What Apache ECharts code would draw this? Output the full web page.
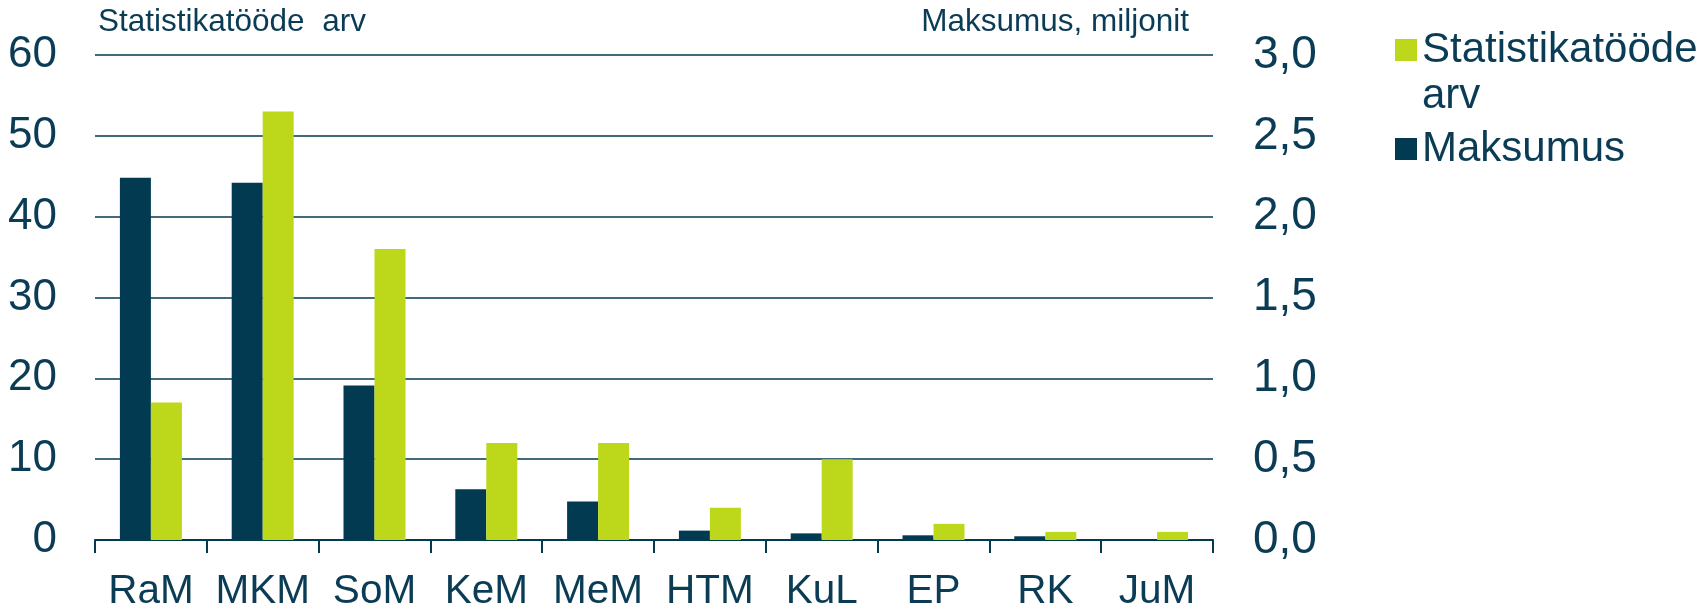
<!DOCTYPE html>
<html>
<head>
<meta charset="utf-8">
<script src="https://cdn.jsdelivr.net/npm/echarts@6/dist/echarts.min.js"></script>
<style>
  html, body { margin: 0; padding: 0; background: #fff; }
  #chart { width: 1706px; height: 607px; }
</style>
</head>
<body>
<div id="chart"></div>
<script>
const categories = ['RaM', 'MKM', 'SoM', 'KeM', 'MeM', 'HTM', 'KuL', 'EP', 'RK', 'JuM']
// maksumus, miljonit (parem telg)
const costValues = [2.24, 2.21, 0.955, 0.314, 0.238, 0.058, 0.041, 0.029, 0.023, 0]
// statistikatööde arv (vasak telg)
const countValues = [17, 53, 36, 12, 12, 4, 10, 2, 1, 1]
const leftTicks = { min: 0, max: 60, interval: 10 }
const rightTicks = { min: 0, max: 3, interval: 0.5 }

const navy = '#023a51'
const green = '#bdd81a'
const textColor = '#0b3c55'
const font = 'Liberation Sans, Arial, sans-serif'

const chart = echarts.init(document.getElementById('chart'))

const option = {
  animation: false,
  textStyle: { fontFamily: font, color: textColor },
  grid: { left: 95, right: 493, top: 55, bottom: 67, containLabel: false, outerBoundsMode: 'none' },
  legend: {
    orient: 'vertical',
    left: 1390,
    top: -24,
    itemWidth: 22,
    itemHeight: 22,
    itemGap: 7,
    icon: 'rect',
    data: ['Statistikatööde arv', 'Maksumus'],
    formatter: (name) => name === 'Statistikatööde arv' ? '\nStatistikatööde\narv' : name,
    textStyle: { fontFamily: font, fontSize: 42, color: textColor, lineHeight: 46 }
  },
  xAxis: {
    type: 'category',
    data: categories,
    axisLine: { lineStyle: { color: navy, width: 2 } },
    axisTick: { show: true, interval: 0, length: 13, lineStyle: { color: navy, width: 2 } },
    axisLabel: { interval: 0, fontSize: 40.5, color: textColor, margin: 31, fontFamily: font }
  },
  yAxis: [
    {
      type: 'value',
      min: leftTicks.min,
      max: leftTicks.max,
      interval: leftTicks.interval,
      name: 'Statistikatööde  arv',
      nameLocation: 'end',
      nameGap: 33,
      nameTextStyle: { fontSize: 31.5, color: textColor, align: 'left', verticalAlign: 'middle', padding: [0, 0, 0, 3], fontFamily: font },
      axisLine: { show: false },
      axisTick: { show: false },
      axisLabel: { fontSize: 44, color: textColor, margin: 38, fontFamily: font },
      splitLine: { lineStyle: { color: navy, width: 1.5 } }
    },
    {
      type: 'value',
      min: rightTicks.min,
      max: rightTicks.max,
      interval: rightTicks.interval,
      name: 'Maksumus, miljonit',
      nameLocation: 'end',
      nameGap: 33,
      nameTextStyle: { fontSize: 31.5, color: textColor, align: 'right', verticalAlign: 'middle', padding: [0, 24, 0, 0], fontFamily: font },
      axisLine: { show: false },
      axisTick: { show: false },
      axisLabel: {
        fontSize: 46, color: textColor, margin: 40, fontFamily: font,
        formatter: (v) => v.toFixed(1).replace('.', ',')
      },
      splitLine: { show: false }
    }
  ],
  series: [
    {
      name: 'Maksumus',
      type: 'bar',
      yAxisIndex: 1,
      data: costValues,
      barWidth: 31,
      barGap: '0%',
      itemStyle: { color: navy }
    },
    {
      name: 'Statistikatööde arv',
      type: 'bar',
      yAxisIndex: 0,
      data: countValues,
      barWidth: 31,
      barGap: '0%',
      itemStyle: { color: green }
    }
  ]
}

chart.setOption(option)
</script>
</body>
</html>
